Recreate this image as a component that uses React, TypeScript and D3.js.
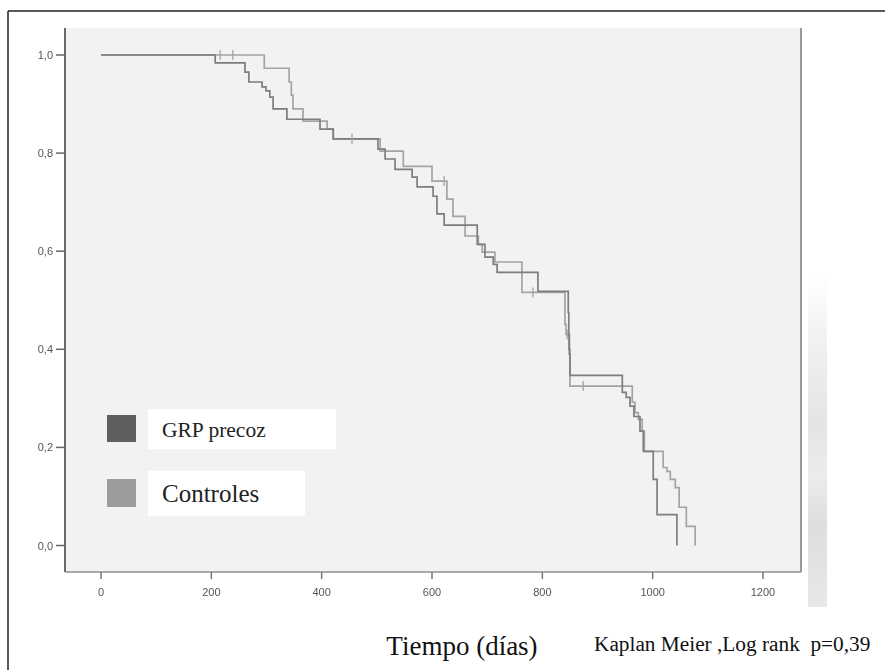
import React from "react";
import * as d3 from "d3";

// Kaplan-Meier steps (time in days, survival)
const grpTimes = [0, 207, 261, 268, 292, 299, 306, 312, 337, 397, 421, 502, 515, 533, 564, 573, 602, 609, 622, 682, 696, 711, 718, 792, 847, 848, 849, 850, 945, 952, 959, 966, 977, 983, 1001, 1008, 1044];
const grpSurv = [1, 0.984, 0.965, 0.945, 0.935, 0.927, 0.914, 0.89, 0.869, 0.849, 0.829, 0.808, 0.788, 0.767, 0.751, 0.731, 0.712, 0.676, 0.653, 0.614, 0.588, 0.573, 0.557, 0.518, 0.475, 0.43, 0.39, 0.347, 0.312, 0.302, 0.284, 0.263, 0.233, 0.192, 0.135, 0.063, 0];

const ctrlTimes = [0, 296, 341, 345, 348, 366, 410, 421, 506, 548, 600, 627, 638, 660, 684, 691, 714, 763, 841, 843, 848, 850, 963, 968, 974, 981, 985, 1019, 1026, 1032, 1041, 1048, 1061, 1077];
const ctrlSurv = [1, 0.973, 0.945, 0.918, 0.89, 0.865, 0.849, 0.829, 0.804, 0.773, 0.743, 0.706, 0.671, 0.631, 0.614, 0.598, 0.578, 0.516, 0.451, 0.43, 0.4, 0.325, 0.292, 0.271, 0.257, 0.233, 0.192, 0.159, 0.151, 0.135, 0.118, 0.078, 0.039, 0];

// censored observations
const ctrlCensorT = [216, 239, 455, 622, 783, 845, 874];
const ctrlCensorS = [1, 1, 0.829, 0.743, 0.516, 0.43, 0.325];

const xTicks = [0, 200, 400, 600, 800, 1000, 1200];
const yTicks = [0, 0.2, 0.4, 0.6, 0.8, 1.0];
const legendLabels = ["GRP precoz", "Controles"];

const W = 885;
const H = 670;
const plot = { left: 65, right: 801, top: 28, bottom: 572 };

export default function App() {
  const x = d3.scaleLinear().domain([0, 1200]).range([101, 763]);
  const y = d3.scaleLinear().domain([0, 1]).range([545.5, 55]);

  const line = d3
    .line<[number, number]>()
    .x((d) => x(d[0]))
    .y((d) => y(d[1]))
    .curve(d3.curveStepAfter);

  const grpPts = grpTimes.map((t, i) => [t, grpSurv[i]] as [number, number]);
  const ctrlPts = ctrlTimes.map((t, i) => [t, ctrlSurv[i]] as [number, number]);

  const fmt = (v: number) => v.toFixed(1).replace(".", ",");

  return (
    <svg width={W} height={H} style={{ position: "absolute", left: 0, top: 0, background: "#fff" }}>
      <defs>
        <linearGradient id="strip" x1="0" y1="0" x2="0" y2="1">
          <stop offset="0%" stopColor="#ffffff" />
          <stop offset="20%" stopColor="#f1f1f1" />
          <stop offset="45%" stopColor="#e4e4e4" />
          <stop offset="60%" stopColor="#ececec" />
          <stop offset="75%" stopColor="#dedede" />
          <stop offset="100%" stopColor="#e8e8e8" />
        </linearGradient>
        <filter id="soft" x="-10%" y="-10%" width="120%" height="120%">
          <feGaussianBlur stdDeviation="0.6" />
        </filter>
        <filter id="softText" x="-10%" y="-10%" width="120%" height="120%">
          <feGaussianBlur stdDeviation="0.35" />
        </filter>
      </defs>

      {/* outer frame */}
      <line x1={8} y1={11} x2={W} y2={11} stroke="#222" strokeWidth={1.5} />
      <line x1={8} y1={11} x2={8} y2={H} stroke="#222" strokeWidth={1.5} />

      {/* faded strip on the right */}
      <rect x={808} y={275} width={19} height={332} fill="url(#strip)" />

      {/* plot area */}
      <rect x={plot.left} y={plot.top} width={plot.right - plot.left} height={plot.bottom - plot.top} fill="#f1f2f2" />
      <line x1={plot.right} y1={plot.top} x2={plot.right} y2={plot.bottom} stroke="#9a9a9a" strokeWidth={2} />
      <line x1={plot.left} y1={plot.bottom} x2={plot.right} y2={plot.bottom} stroke="#8f8f8f" strokeWidth={1.5} />
      <line x1={plot.left} y1={plot.top} x2={plot.left} y2={plot.bottom} stroke="#6a6a6a" strokeWidth={2} />

      {/* y axis */}
      <g filter="url(#softText)">
        {yTicks.map((v) => (
          <g key={v}>
            <line x1={56} x2={plot.left} y1={y(v)} y2={y(v)} stroke="#666" strokeWidth={1.5} />
            <text x={53} y={y(v) + 4} textAnchor="end" fontFamily="Liberation Sans, Arial, sans-serif" fontSize={11} fill="#555">
              {fmt(v)}
            </text>
          </g>
        ))}
      </g>

      {/* x axis */}
      <g filter="url(#softText)">
        {xTicks.map((v) => (
          <g key={v}>
            <line x1={x(v)} x2={x(v)} y1={plot.bottom} y2={plot.bottom + 7} stroke="#777" strokeWidth={1.5} />
            <text x={x(v)} y={596} textAnchor="middle" fontFamily="Liberation Sans, Arial, sans-serif" fontSize={11} fill="#555">
              {v}
            </text>
          </g>
        ))}
      </g>

      {/* survival curves */}
      <g filter="url(#soft)">
        <path d={line(ctrlPts) ?? ""} fill="none" stroke="#a4a4a4" strokeWidth={1.7} />
        <path d={line(grpPts) ?? ""} fill="none" stroke="#7e7e7e" strokeWidth={1.7} />
        {ctrlCensorT.map((t, i) => (
          <line key={t} x1={x(t)} x2={x(t)} y1={y(ctrlCensorS[i]) - 5} y2={y(ctrlCensorS[i]) + 5} stroke="#a4a4a4" strokeWidth={1.3} />
        ))}
      </g>

      {/* legend */}
      <rect x={148} y={409} width={188} height={40} fill="#fff" />
      <rect x={148} y={471} width={157} height={45} fill="#fff" />
      <rect x={107} y={415} width={29} height={27} fill="#5e5e60" filter="url(#soft)" />
      <rect x={107} y={479} width={29} height={28} fill="#9c9c9e" filter="url(#soft)" />
      <text x={162} y={437} fontFamily="Liberation Serif, Times New Roman, serif" fontSize={21.5} fill="#222">
        {legendLabels[0]}
      </text>
      <text x={162} y={502} fontFamily="Liberation Serif, Times New Roman, serif" fontSize={25} fill="#222">
        {legendLabels[1]}
      </text>

      {/* bottom titles */}
      <text x={462} y={655} textAnchor="middle" fontFamily="Liberation Serif, Times New Roman, serif" fontSize={27} fill="#111">
        Tiempo (días)
      </text>
      <text x={594} y={651} fontFamily="Liberation Serif, Times New Roman, serif" fontSize={21.3} fill="#111" style={{ whiteSpace: "pre" }}>
        {"Kaplan Meier ,Log rank  p=0,39"}
      </text>
    </svg>
  );
}
